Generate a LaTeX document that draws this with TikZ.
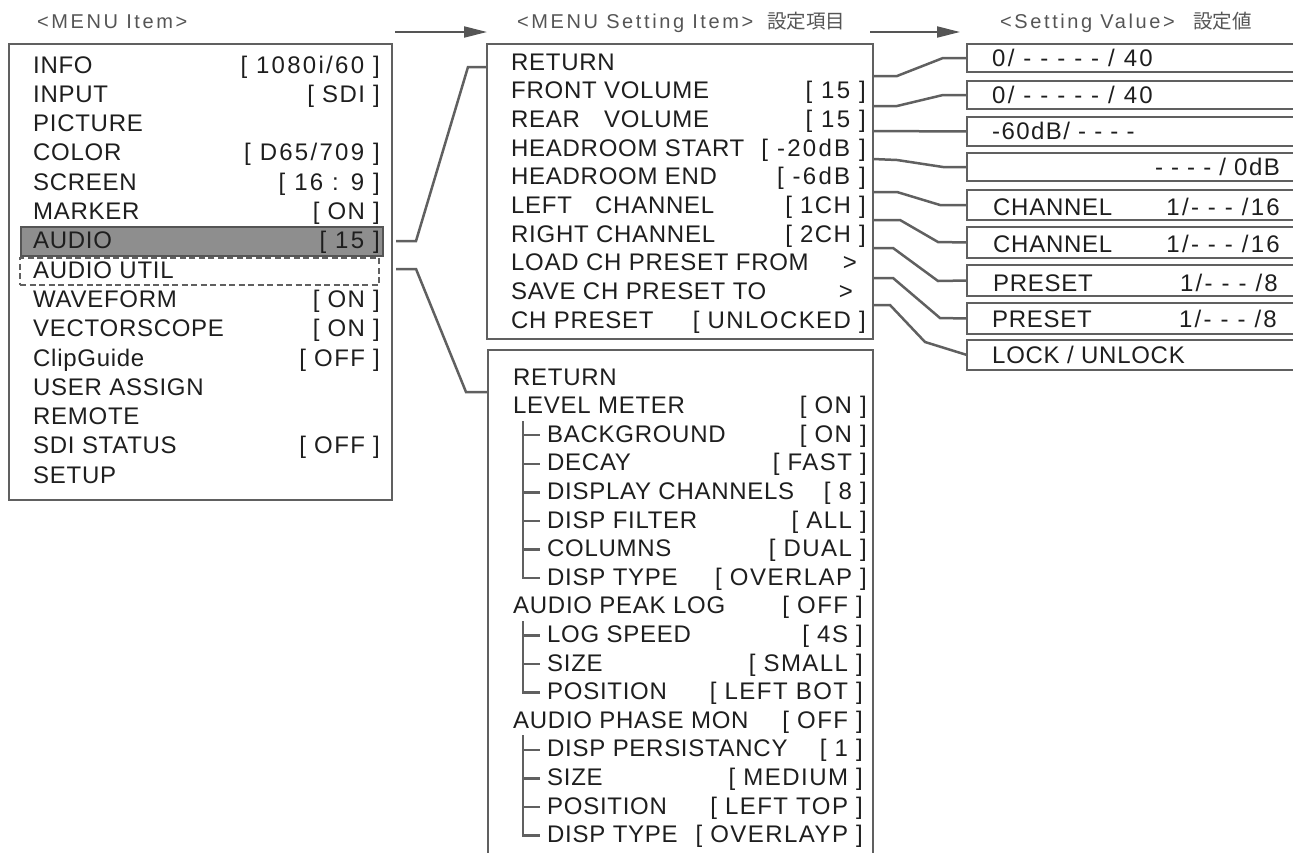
\documentclass[tikz,border=0pt]{standalone}
\usepackage{fontspec}
\setmainfont{Liberation Sans}
\newfontfamily\labfont{Liberation Sans}[LetterSpace=3]
\newfontfamily\valfont{Liberation Sans}[LetterSpace=6]
\newfontfamily\numfont{Liberation Sans}[LetterSpace=9.5]
\newfontfamily\hdfont{Liberation Sans}[LetterSpace=13]
\newfontfamily\jpfont{Noto Sans CJK JP}
\usetikzlibrary{arrows.meta}
\definecolor{ln}{HTML}{606060}
\definecolor{tx}{HTML}{1E1E1E}
\definecolor{hd}{HTML}{555555}
\definecolor{hl}{HTML}{8E8E8E}
\definecolor{hlb}{HTML}{555555}
\tikzset{
  frame/.style={draw=ln, line width=2.5pt, rectangle, inner sep=0pt, outer sep=0pt, anchor=north west},
  lab/.style={anchor=base west, inner sep=0pt, text=tx, font=\labfont\fontsize{24}{24}\selectfont},
  val/.style={anchor=base east, inner sep=0pt, text=tx, font=\valfont\fontsize{24}{24}\selectfont},
  num/.style={anchor=base east, inner sep=0pt, text=tx, font=\numfont\fontsize{24}{24}\selectfont},
  vall/.style={anchor=base west, inner sep=0pt, text=tx, font=\valfont\fontsize{24}{24}\selectfont},
  numl/.style={anchor=base west, inner sep=0pt, text=tx, font=\numfont\fontsize{24}{24}\selectfont},
  hdr/.style={anchor=base west, inner sep=0pt, text=hd, font=\hdfont\fontsize{20}{20}\selectfont},
  hdj/.style={anchor=base west, inner sep=0pt, text=hd, font=\jpfont\fontsize{19.5}{19.5}\selectfont},
  conn/.style={draw=ln, line width=2.5pt},
  tree/.style={draw=ln, line width=2.5pt},
  hdarrow/.style={draw=hd, line width=2pt, -{Triangle[length=23pt,width=11pt]}},
}
\begin{document}
\begin{tikzpicture}[x=1pt,y=-1pt]
\useasboundingbox (0,0) rectangle (1293,852);
\clip (0,0) rectangle (1293,852);

% ---------- headers ----------
\node[hdr] (h1) at (37,28) {<MENU Item>};
\node[hdr] (h2) at (517,28) {<MENU Setting Item>};
\node[hdj] (h2j) at (767,28) {設定項目};
\node[hdr] (h3) at (1000,28) {<Setting Value>};
\node[hdj] (h3j) at (1193,28) {設定値};
\coordinate (ar1s) at (395,32);
\coordinate (ar1e) at (487,32);
\coordinate (ar2s) at (870,32);
\coordinate (ar2e) at (960,32);
\draw[hdarrow] (ar1s) -- (ar1e);
\draw[hdarrow] (ar2s) -- (ar2e);

% ---------- frames ----------
\node[frame, minimum width=383pt, minimum height=456pt] (menu) at (9,44) {};
\node[frame, minimum width=386pt, minimum height=295pt] (setA) at (487,44) {};
\node[frame, minimum width=385pt, minimum height=560pt] (setB) at (488,350) {};

% highlight + dashed
\node[draw=hlb, fill=hl, line width=1.5pt, rectangle, inner sep=0pt, outer sep=0pt, anchor=north west,
      minimum width=362pt, minimum height=29pt] (hlA) at (21,227) {};
\node[draw=ln, dash pattern=on 6pt off 3.5pt, line width=2.2pt, rectangle, inner sep=0pt, outer sep=0pt, anchor=north west,
      minimum width=359pt, minimum height=27pt] (hlU) at (20,258) {};

% ---------- menu items ----------
\foreach \i/\t in {0/INFO,1/INPUT,2/PICTURE,3/COLOR,4/SCREEN,5/MARKER,6/AUDIO,7/AUDIO UTIL,8/WAVEFORM,9/VECTORSCOPE,10/ClipGuide,11/USER ASSIGN,12/REMOTE,13/SDI STATUS,14/SETUP}
  \node[lab] (ml\i) at (33,{73+29.3*\i}) {\t};
\foreach \i/\t in {0/{[ 1080i/60 ]},3/{[ D65/709 ]},4/{[ 16 : 9 ]},6/{[ 15 ]}}
  \node[num] (mv\i) at (380,{73+29.3*\i}) {\t};
\foreach \i/\t in {1/{[ SDI ]},5/{[ ON ]},8/{[ ON ]},9/{[ ON ]},10/{[ OFF ]},13/{[ OFF ]}}
  \node[val] (mv\i) at (380,{73+29.3*\i}) {\t};

% ---------- setting items A ----------
\foreach \i/\t in {0/RETURN,1/FRONT VOLUME,2/REAR,3/HEADROOM START,4/HEADROOM END,5/LEFT,6/RIGHT CHANNEL,7/LOAD CH PRESET FROM,8/SAVE CH PRESET TO,9/CH PRESET}
  \node[lab] (al\i) at (511,{70+28.7*\i}) {\t};
\node[lab] (al2b) at (604,{70+28.7*2}) {VOLUME};
\node[lab] (al5b) at (595,{70+28.7*5}) {CHANNEL};
\foreach \i/\t in {1/{[ 15 ]},2/{[ 15 ]},3/{[ -20dB ]},4/{[ -6dB ]}}
  \node[num] (av\i) at (866,{70+28.7*\i}) {\t};
\foreach \i/\t in {5/{[ 1CH ]},6/{[ 2CH ]},9/{[ UNLOCKED ]}}
  \node[val] (av\i) at (866,{70+28.7*\i}) {\t};
\node[val] (av7) at (857,{70+28.7*7}) {>};
\node[val] (av8) at (853,{70+28.7*8}) {>};

% ---------- setting items B ----------
\foreach \i/\t in {0/RETURN,1/LEVEL METER,8/AUDIO PEAK LOG,12/AUDIO PHASE MON}
  \node[lab] (bl\i) at (513,{385+28.6*\i}) {\t};
\foreach \i/\t in {2/BACKGROUND,3/DECAY,4/DISPLAY CHANNELS,5/DISP FILTER,6/COLUMNS,7/DISP TYPE,9/LOG SPEED,10/SIZE,11/POSITION,13/DISP PERSISTANCY,14/SIZE,15/POSITION,16/DISP TYPE}
  \node[lab] (bl\i) at (547,{385+28.6*\i}) {\t};
\foreach \i/\t in {1/{[ ON ]},2/{[ ON ]},3/{[ FAST ]},4/{[ 8 ]},5/{[ ALL ]},6/{[ DUAL ]},7/{[ OVERLAP ]}}
  \node[val] (bv\i) at (867,{385+28.6*\i}) {\t};
\foreach \i/\t in {8/{[ OFF ]},9/{[ 4S ]},10/{[ SMALL ]},11/{[ LEFT BOT ]},12/{[ OFF ]},13/{[ 1 ]},14/{[ MEDIUM ]},15/{[ LEFT TOP ]},16/{[ OVERLAYP ]}}
  \node[val] (bv\i) at (863,{385+28.6*\i}) {\t};

% tree lines
\draw[tree] (523,421) -- (523,{385+28.6*7-7}) -- (540,{385+28.6*7-7});
\foreach \i in {2,...,6} \draw[tree] (523,{385+28.6*\i-7}) -- (540,{385+28.6*\i-7});
\draw[tree] (523,621) -- (523,{385+28.6*11-7}) -- (540,{385+28.6*11-7});
\foreach \i in {9,10} \draw[tree] (523,{385+28.6*\i-7}) -- (540,{385+28.6*\i-7});
\draw[tree] (523,735) -- (523,{385+28.6*16-7}) -- (540,{385+28.6*16-7});
\foreach \i in {13,14,15} \draw[tree] (523,{385+28.6*\i-7}) -- (540,{385+28.6*\i-7});

% ---------- value boxes ----------
\node[frame, minimum width=400pt, minimum height=28pt] (v1) at (967,44) {};
\node[frame, minimum width=400pt, minimum height=28pt] (v2) at (967,81) {};
\node[frame, minimum width=400pt, minimum height=29pt] (v3) at (967,117) {};
\node[frame, minimum width=400pt, minimum height=28pt] (v4) at (967,153) {};
\node[frame, minimum width=400pt, minimum height=30pt] (v5) at (967,190) {};
\node[frame, minimum width=400pt, minimum height=31pt] (v6) at (967,227) {};
\node[frame, minimum width=400pt, minimum height=31pt] (v7) at (967,265) {};
\node[frame, minimum width=400pt, minimum height=31pt] (v8) at (967,303) {};
\node[frame, minimum width=400pt, minimum height=30pt] (v9) at (967,340) {};

\node[numl] (t1) at (992,66) {0/ - - - - - / 40};
\node[numl] (t2) at (992,103) {0/ - - - - - / 40};
\node[vall] (t3) at (992,139) {-60dB/ - - - -};
\node[val] (t4) at (1280,175) {- - - - / 0dB};
\node[lab] (t5) at (993,215) {CHANNEL};
\node[num] (t5v) at (1280,215) {1/- - - /16};
\node[lab] (t6) at (993,252) {CHANNEL};
\node[num] (t6v) at (1280,252) {1/- - - /16};
\node[lab] (t7) at (993,291) {PRESET};
\node[num] (t7v) at (1278,291) {1/- - - /8};
\node[lab] (t8) at (992,327) {PRESET};
\node[num] (t8v) at (1277,327) {1/- - - /8};
\node[lab] (t9) at (992,363) {LOCK / UNLOCK};

% ---------- connectors menu -> settings ----------
\coordinate (c1) at (396,241);
\coordinate (c2) at (396,269);
\draw[conn] (c1) -- (416,241) -- (468,67) -- (setA.west |- 0,67);
\draw[conn] (c2) -- (416,269) -- (466,392) -- (setB.west |- 0,392);

% ---------- connectors settings -> values ----------
\draw[conn] (setA.east |- 0,76)  -- (897,76)  -- (943,58)  -- (v1.west);
\draw[conn] (setA.east |- 0,106) -- (897,106) -- (943,95)  -- (v2.west);
\draw[conn] (setA.east |- 0,131) -- (v3.west);
\draw[conn] (setA.east |- 0,159) -- (897,160) -- (943,167) -- (v4.west);
\draw[conn] (setA.east |- 0,192) -- (897,192) -- (940,205) -- (v5.west);
\draw[conn] (setA.east |- 0,220) -- (900,220) -- (938,242) -- (v6.west);
\draw[conn] (setA.east |- 0,248) -- (893,248) -- (938,281) -- (v7.west);
\draw[conn] (setA.east |- 0,278) -- (893,278) -- (940,318) -- (v8.west);
\draw[conn] (setA.east |- 0,305) -- (890,305) -- (925,342) -- (v9.west);
\end{tikzpicture}
\end{document}
